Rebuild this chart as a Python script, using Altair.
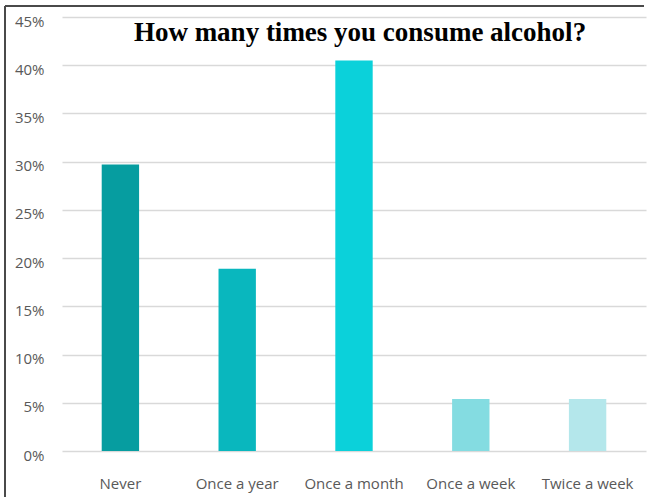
import altair as alt
import pandas as pd

categories = ["Never", "Once a year", "Once a month", "Once a week", "Twice a week"]
values = [0.297, 0.189, 0.405, 0.054, 0.054]
colors = ["#069DA0", "#09B7BE", "#0BD1DA", "#84DCE1", "#B4E7EB"]
title_text = "How many times you consume alcohol?"

df = pd.DataFrame({"cat": categories, "val": values})

W, H = 584, 434

bars = alt.Chart(df).mark_bar().encode(
    x=alt.X("cat:N", sort=categories, title=None,
            scale=alt.Scale(paddingInner=0.68, paddingOuter=0.34),
            axis=alt.Axis(labelAngle=0, labelFont="Open Sans", labelFontSize=15,
                          labelColor="#595959", labelPadding=25, ticks=False,
                          domain=False, grid=False)),
    y=alt.Y("val:Q", title=None,
            scale=alt.Scale(domain=[0, 0.45], nice=False),
            axis=alt.Axis(format=".0%", values=[i * 0.05 for i in range(10)],
                          labelFont="Open Sans", labelFontSize=15, labelColor="#595959",
                          labelPadding=18, labelOffset=4, ticks=False, domain=False,
                          gridColor="#D9D9D9", gridWidth=1.5)),
    color=alt.Color("cat:N", sort=categories,
                    scale=alt.Scale(domain=categories, range=colors), legend=None),
)

title = alt.Chart(pd.DataFrame({"t": [title_text]})).mark_text(
    font="Liberation Serif", fontWeight="bold", fontSize=27, color="#000000",
    align="center", baseline="middle"
).encode(x=alt.value(298), y=alt.value(16), text="t:N")

border_left = alt.Chart(pd.DataFrame({"a": [0]})).mark_rule(
    color="#4A4A4A", strokeWidth=2
).encode(x=alt.value(-57), y=alt.value(-11), y2=alt.value(H + 50))

border_top = alt.Chart(pd.DataFrame({"a": [0]})).mark_rule(
    color="#4A4A4A", strokeWidth=2
).encode(x=alt.value(-57), x2=alt.value(582), y=alt.value(-11))

chart = alt.layer(bars, title, border_left, border_top).properties(
    width=W, height=H,
    autosize=alt.AutoSizeParams(type="none"),
    padding={"left": 62, "top": 17, "right": 6, "bottom": 46},
    view=alt.ViewBackground(stroke="transparent", strokeWidth=0, strokeOpacity=0),
).configure_view(stroke="transparent", strokeWidth=0, strokeOpacity=0).configure(background="white")

chart.save("out.html", embed_options={"renderer": "svg", "actions": False})
